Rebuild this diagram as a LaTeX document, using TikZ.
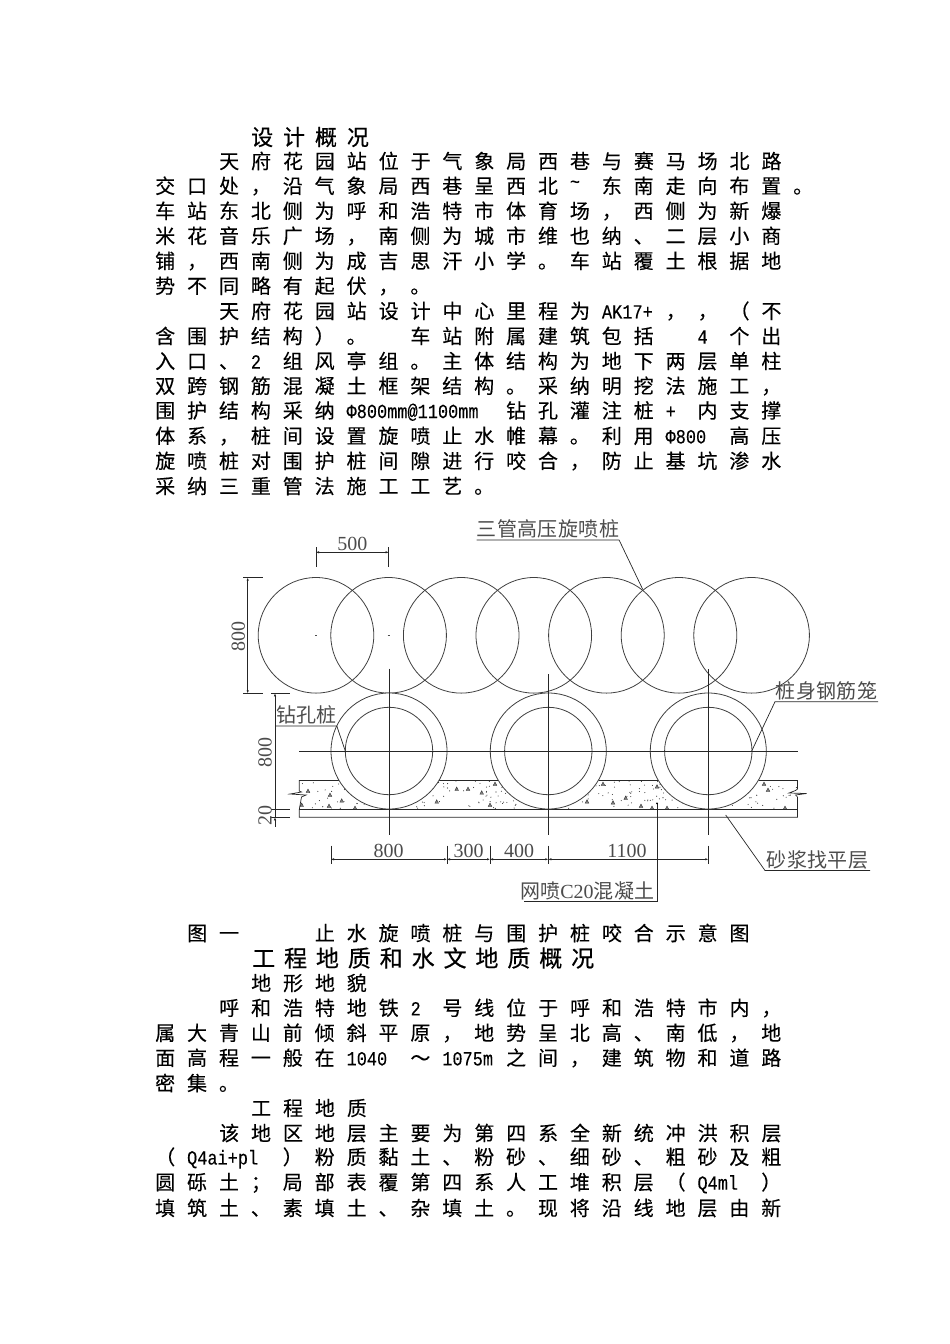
\documentclass[tikz,border=0pt]{standalone}
\usepackage{fontspec}
\usetikzlibrary{arrows.meta}
\newfontfamily\cjkbody[LetterSpace=59.5,FakeBold=0.2]{Noto Sans CJK SC}
\newfontfamily\cjkhead[LetterSpace=45,FakeBold=0.6]{Noto Sans CJK SC}
\newfontfamily\cjkheadb[LetterSpace=38.7,FakeBold=0.6]{Noto Sans CJK SC}
\newfontfamily\cjklabel[LetterSpace=2]{Noto Sans CJK SC}
\newfontfamily\latbody[FakeStretch=0.846,FakeBold=0.2]{Liberation Mono}
\newfontfamily\latlabel{Liberation Serif}
\newlength\cellw
\setlength\cellw{31.9pt}
\newlength\cellgap
\setlength\cellgap{11.9pt}
\def\lat#1#2{\hspace{\cellgap}\makebox[#1\cellw][l]{\fontsize{20}{20}\latbody #2}}
\def\tild{\raisebox{0.25em}{\fontsize{20}{20}\latbody\char`\~}}
\def\speck(#1,#2){\draw[black!80, fill=black!50, line width=0.4pt] (#1-1.8, #2+1.5) -- (#1+1.8, #2+1.5) -- (#1, #2-2) -- cycle;}
\tikzset{
	bodyline/.style={anchor=west, inner sep=0pt, font=\cjkbody\fontsize{20}{20}\selectfont},
	headline/.style={anchor=west, inner sep=0pt, font=\cjkhead\fontsize{22}{22}\selectfont},
	pile/.style={draw=black!75, line width=0.8pt},
	drawline/.style={black!85, line width=0.7pt},
	dimtext/.style={inner sep=0pt, text=black!70, font=\latlabel\fontsize{20}{20}\selectfont},
	leadtext/.style={anchor=south west, inner sep=0pt, outer sep=0pt, text=black!70, minimum height=22pt, font=\cjklabel\fontsize{20}{20}\selectfont},
	dimarrow/.style={black!85, line width=0.7pt, {Latex[length=3pt,width=2.4pt]}-{Latex[length=3pt,width=2.4pt]}}
}
\begin{document}
\begin{tikzpicture}[x=1pt, y=-1pt]
	\useasboundingbox (0, 0) rectangle (950, 1344);
	
	%%%%% TEXT ABOVE %%%%%
	\node[headline] (head1) at (251, 137) {设计概况};
	\node[bodyline] (l1) at (219, 161) {天府花园站位于气象局西巷与赛马场北路};
	\node[bodyline] (l2) at (155, 186) {交口处，沿气象局西巷呈西北\hspace{\cellgap}\makebox[\cellw][l]{\tild}东南走向布置。};
	\node[bodyline] (l3) at (155, 211) {车站东北侧为呼和浩特市体育场，西侧为新爆};
	\node[bodyline] (l4) at (155, 236) {米花音乐广场，南侧为城市维也纳、二层小商};
	\node[bodyline] (l5) at (155, 261) {铺，西南侧为成吉思汗小学。车站覆土根据地};
	\node[bodyline] (l6) at (155, 286) {势不同略有起伏，。};
	\node[bodyline] (l7) at (219, 311) {天府花园站设计中心里程为\lat{2}{AK17+}，，（不};
	\node[bodyline] (l8) at (155, 336) {含围护结构）。\lat{1}{}车站附属建筑包括\lat{2}{\hspace{\cellw}4}个出};
	\node[bodyline] (l9) at (155, 361) {入口、\lat{1}{2}组风亭组。主体结构为地下两层单柱};
	\node[bodyline] (l10) at (155, 386) {双跨钢筋混凝土框架结构。采纳明挖法施工，};
	\node[bodyline] (l11) at (155, 411) {围护结构采纳\lat{5}{Φ800mm@1100mm}钻孔灌注桩\lat{1}{+}内支撑};
	\node[bodyline] (l12) at (155, 436) {体系，桩间设置旋喷止水帷幕。利用\lat{2}{Φ800}高压};
	\node[bodyline] (l13) at (155, 461) {旋喷桩对围护桩间隙进行咬合，防止基坑渗水};
	\node[bodyline] (l14) at (155, 486) {采纳三重管法施工工艺。};
	
	%%%%% TOP ROW OF JET GROUTING PILES %%%%%
	\draw[pile] (316, 635.3) circle (57.8);
	\draw[pile] (388.6, 635.3) circle (57.8);
	\draw[pile] (461.2, 635.3) circle (57.8);
	\draw[pile] (533.8, 635.3) circle (57.8);
	\draw[pile] (606.4, 635.3) circle (57.8);
	\draw[pile] (679, 635.3) circle (57.8);
	\draw[pile] (751.6, 635.3) circle (57.8);
	\draw[black!70, line width=0.4pt] (315, 635.3) -- (317, 635.3);
	\draw[black!70, line width=0.4pt] (387.6, 635.3) -- (389.6, 635.3);
	
	%%%%% CONCRETE LAYER %%%%%
	\begin{scope}
		\clip (300, 780.5) rectangle (797, 809);
		\pgfmathsetseed{2024}
		\foreach \n in {1,...,260} {
			\pgfmathsetmacro{\px}{300 + 497*rnd}
			\pgfmathsetmacro{\py}{781 + 27.5*rnd}
			\fill[black!80] (\px, \py) circle (0.55);
		}
		\speck(341.7,800.7)
		\speck(330,795)
		\speck(329,806)
		\speck(355,808)
		\speck(301.7,805)
		\speck(308,791)
		\speck(456.7,789)
		\speck(468,789)
		\speck(481.7,792.7)
		\speck(436.7,801.7)
		\speck(490,805)
		\speck(495,784)
		\speck(603,784)
		\speck(613,802.7)
		\speck(625.7,798)
		\speck(587,801.7)
		\speck(641,806)
		\speck(657,786.7)
		\speck(652,808)
		\speck(667,808)
		\speck(764,784)
		\speck(768,790)
		\speck(785,808)
	\end{scope}
	\draw[drawline] (299.3, 780) -- (338.8, 780);
	\draw[drawline] (439.2, 780) -- (498.1, 780);
	\draw[drawline] (598.5, 780) -- (658.1, 780);
	\draw[drawline] (758.5, 780) -- (797.5, 780);
	\draw[drawline] (299.3, 780) -- (299.3, 791) -- (301.5, 792) -- (290, 794) -- (306, 795) -- (301.5, 797) -- (299.3, 809.3) -- (299.3, 817.3) -- (797.5, 817.3) -- (797.5, 809.3) -- (797.5, 797) -- (795.5, 795) -- (806.5, 793.5) -- (789, 793) -- (795.5, 790.5) -- (797.5, 789) -- (797.5, 780);
	\draw[drawline] (299.3, 809.3) -- (797.5, 809.3);
	
	%%%%% BORED PILES %%%%%
	\draw[pile, fill=white] (389, 751) circle (58);
	\draw[pile] (389, 751) circle (43.7);
	\draw[pile, fill=white] (548.3, 751) circle (58);
	\draw[pile] (548.3, 751) circle (43.7);
	\draw[pile, fill=white] (708.3, 751) circle (58);
	\draw[pile] (708.3, 751) circle (43.7);
	\draw[drawline] (299.3, 751) -- (798.3, 751);
	\draw[drawline] (389, 668.7) -- (389, 835);
	\draw[drawline] (548.3, 674) -- (548.3, 835);
	\draw[drawline] (708.3, 669) -- (708.3, 835);
	
	%%%%% DIMENSIONS %%%%%
	\coordinate (top1) at (316, 552.3);
	\coordinate (top2) at (388.7, 552.3);
	\draw[dimarrow] (top1) -- (top2);
	\draw[drawline] (316, 547.3) -- (316, 567.3);
	\draw[drawline] (388.7, 547.3) -- (388.7, 567.3);
	\node[dimtext] (dim500) at (352.3, 543.5) {500};
	
	\coordinate (left1) at (247.7, 577.7);
	\coordinate (left2) at (247.7, 693.3);
	\draw[dimarrow] (left1) -- (left2);
	\draw[drawline] (243.3, 577.7) -- (263.3, 577.7);
	\draw[drawline] (243.3, 693.3) -- (263.3, 693.3);
	\node[dimtext, rotate=90] (dim800a) at (238.3, 636) {800};
	
	\coordinate (mid1) at (275, 693.3);
	\coordinate (mid2) at (275, 809.3);
	\coordinate (mid3) at (275, 817.3);
	\coordinate (mid4) at (275, 826.7);
	\draw[drawline, {Latex[length=3pt,width=2.4pt]}-] (mid1) -- (mid2);
	\draw[drawline] (mid2) -- (mid3);
	\draw[drawline, -{Latex[length=3pt,width=2.4pt]}] (mid4) -- (mid3);
	\draw[drawline] (271, 693.3) -- (290, 693.3);
	\draw[drawline] (271, 809.3) -- (290, 809.3);
	\draw[drawline] (271, 817.3) -- (290, 817.3);
	\node[dimtext, rotate=90] (dim800b) at (265, 752.6) {800};
	\node[dimtext, rotate=90] (dim20) at (265, 815) {20};
	
	\coordinate (bot1) at (331, 859.3);
	\coordinate (bot2) at (447, 859.3);
	\coordinate (bot3) at (490, 859.3);
	\coordinate (bot4) at (548.3, 859.3);
	\coordinate (bot5) at (708.3, 859.3);
	\draw[dimarrow] (bot1) -- (bot2);
	\draw[dimarrow] (bot2) -- (bot3);
	\draw[dimarrow] (bot3) -- (bot4);
	\draw[dimarrow] (bot4) -- (bot5);
	\draw[drawline] (331, 845.7) -- (331, 864);
	\draw[drawline] (447, 845.7) -- (447, 864);
	\draw[drawline] (490, 845.7) -- (490, 864);
	\draw[drawline] (548.3, 845.7) -- (548.3, 864);
	\draw[drawline] (708.3, 845.7) -- (708.3, 864);
	\node[dimtext] (dim800c) at (388.5, 850.5) {800};
	\node[dimtext] (dim300) at (468.5, 850.5) {300};
	\node[dimtext] (dim400) at (519, 850.5) {400};
	\node[dimtext] (dim1100) at (627, 850.5) {1100};
	
	%%%%% LEADERS %%%%%
	\node[leadtext, minimum width=142pt] (gaoya) at (476.7, 540) {三管高压旋喷桩};
	\coordinate (gaoyaend) at (642.7, 589.3);
	\draw[drawline] (gaoya.south west) -- (gaoya.south east) -- (gaoyaend);
	
	\node[leadtext, minimum width=58pt] (zuankong) at (276, 726) {钻孔桩};
	\coordinate (zuankongend) at (345.3, 751);
	\draw[drawline] (zuankong.south west) -- (zuankong.south east) -- (zuankongend);
	
	\node[leadtext, minimum width=103pt] (gangjin) at (775, 701.7) {桩身钢筋笼};
	\coordinate (gangjinend) at (751.7, 751);
	\draw[drawline] (gangjin.south east) -- (gangjin.south west) -- (gangjinend);
	
	\node[leadtext, minimum width=105pt] (shajiang) at (765, 870.5) {砂浆找平层};
	\coordinate (shajiangend) at (725.7, 815);
	\draw[drawline] (shajiang.south east) -- (shajiang.south west) -- (shajiangend);
	
	\node[leadtext] (wangpen) at (524, 901.7) {\makebox[133pt][l]{\hspace{-4pt}网喷{\latlabel C20}混凝土}};
	\coordinate (wangpenend) at (657, 803.3);
	\draw[drawline] (wangpen.south west) -- (wangpen.south east) -- (wangpenend);
	\fill[black] (wangpenend) circle (1);
	
	%%%%% TEXT BELOW %%%%%
	\node[bodyline] (cap) at (187, 933) {图一\lat{2}{}止水旋喷桩与围护桩咬合示意图};
	\node[headline, font=\cjkheadb\fontsize{23}{23}\selectfont] (head2) at (252, 958) {工程地质和水文地质概况};
	\node[bodyline] (sub1) at (251, 983) {地形地貌};
	\node[bodyline] (m1) at (219, 1008) {呼和浩特地铁\lat{1}{2}号线位于呼和浩特市内，};
	\node[bodyline] (m2) at (155, 1033) {属大青山前倾斜平原，地势呈北高、南低，地};
	\node[bodyline] (m3) at (155, 1058) {面高程一般在\lat{2}{1040}～\lat{2}{1075m}之间，建筑物和道路};
	\node[bodyline] (m4) at (155, 1083) {密集。};
	\node[bodyline] (sub2) at (251, 1108) {工程地质};
	\node[bodyline] (n1) at (219, 1133) {该地区地层主要为第四系全新统冲洪积层};
	\node[bodyline] (n2) at (155, 1158) {（\lat{3}{Q4ai+pl}）粉质黏土、粉砂、细砂、粗砂及粗};
	\node[bodyline] (n3) at (155, 1183) {圆砾土；局部表覆第四系人工堆积层（\lat{2}{Q4ml}）};
	\node[bodyline] (n4) at (155, 1208) {填筑土、素填土、杂填土。现将沿线地层由新};
\end{tikzpicture}
\end{document}
